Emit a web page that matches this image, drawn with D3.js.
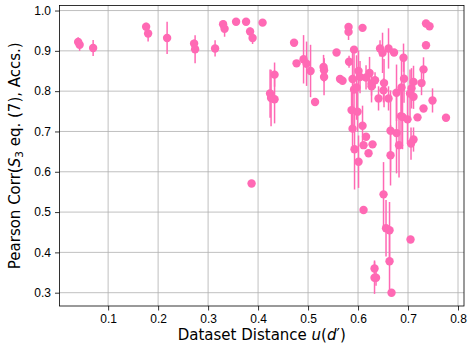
<!DOCTYPE html>
<html>
<head>
<meta charset="utf-8">
<script src="https://cdn.jsdelivr.net/npm/d3@7/dist/d3.min.js"></script>
<style>
  body { margin: 0; background: #fff; }
  svg { font-family: "DejaVu Sans", sans-serif; }
  .tick text { font-size: 12px; fill: #000; }
  .grid line { stroke: #b0b0b0; stroke-width: 0.8; }
  .label { font-size: 15px; fill: #000; }
</style>
</head>
<body>
<div id="chart"></div>
<script>
// dataset distance u(d')
const distance = [0.040, 0.043, 0.070, 0.176, 0.180, 0.218, 0.272, 0.274, 0.314, 0.330,
  0.333, 0.356, 0.376, 0.384, 0.389, 0.387, 0.409, 0.424, 0.426, 0.433,
  0.433, 0.472, 0.477, 0.491, 0.497, 0.505, 0.514, 0.531, 0.532, 0.532,
  0.557, 0.564, 0.569, 0.581, 0.581, 0.582, 0.592, 0.589, 0.601, 0.604,
  0.609, 0.623, 0.592, 0.597, 0.616, 0.627, 0.634, 0.627, 0.644, 0.649,
  0.652, 0.651, 0.661, 0.672, 0.691, 0.692, 0.731, 0.727, 0.736, 0.736,
  0.743, 0.707, 0.711, 0.687, 0.704, 0.677, 0.641, 0.661, 0.711, 0.749,
  0.731, 0.719, 0.776, 0.686, 0.689, 0.699, 0.665, 0.677, 0.711, 0.706,
  0.682, 0.587, 0.599, 0.589, 0.609, 0.616, 0.593, 0.611, 0.629, 0.621,
  0.601, 0.665, 0.611, 0.651, 0.656, 0.663, 0.663, 0.667, 0.633, 0.633,
  0.636, 0.705];
// pearson correlation
const corr = [0.922, 0.915, 0.907, 0.960, 0.943, 0.932, 0.918, 0.904, 0.906, 0.966,
  0.955, 0.972, 0.972, 0.948, 0.932, 0.571, 0.970, 0.794, 0.783, 0.780,
  0.841, 0.920, 0.869, 0.879, 0.868, 0.850, 0.773, 0.860, 0.852, 0.835,
  0.896, 0.830, 0.826, 0.959, 0.947, 0.873, 0.903, 0.830, 0.850, 0.835,
  0.957, 0.845, 0.804, 0.809, 0.834, 0.819, 0.827, 0.812, 0.906, 0.895,
  0.820, 0.802, 0.906, 0.896, 0.883, 0.831, 0.854, 0.820, 0.914, 0.968,
  0.961, 0.807, 0.823, 0.809, 0.794, 0.796, 0.782, 0.782, 0.786, 0.777,
  0.757, 0.735, 0.734, 0.738, 0.736, 0.730, 0.702, 0.696, 0.680, 0.670,
  0.666, 0.753, 0.749, 0.707, 0.714, 0.687, 0.656, 0.666, 0.668, 0.646,
  0.625, 0.641, 0.505, 0.544, 0.460, 0.455, 0.378, 0.300, 0.360, 0.337,
  0.337, 0.432];
// error (half length of bar)
const corrErr = [0.012, 0.015, 0.020, 0.010, 0.020, 0.040, 0.010, 0.035, 0.020, 0.010,
  0.020, 0, 0, 0.010, 0.015, 0, 0, 0.060, 0.070, 0.060,
  0.030, 0, 0, 0.060, 0.055, 0.065, 0, 0.030, 0.030, 0.045,
  0, 0, 0, 0.010, 0.020, 0.015, 0, 0.070, 0.050, 0.040,
  0, 0.040, 0.090, 0.080, 0.030, 0.030, 0.020, 0.040, 0.020, 0.050,
  0.060, 0.030, 0.050, 0, 0.035, 0.060, 0.030, 0.030, 0, 0,
  0, 0.050, 0.040, 0.080, 0.060, 0.070, 0.030, 0.030, 0.030, 0.030,
  0, 0, 0, 0.070, 0.080, 0.060, 0.100, 0.100, 0.030, 0.040,
  0.080, 0.050, 0.050, 0.060, 0.050, 0, 0.100, 0, 0, 0,
  0.065, 0.075, 0, 0.080, 0.070, 0.070, 0.080, 0, 0.020, 0.040,
  0.020, 0];

const xTicks = [0.1, 0.2, 0.3, 0.4, 0.5, 0.6, 0.7, 0.8];
const yTicks = [0.3, 0.4, 0.5, 0.6, 0.7, 0.8, 0.9, 1.0];

const width = 468, height = 347;
const m = { left: 59.5, right: 464, top: 5.5, bottom: 306 };
const color = "#ff69b4";

const x = d3.scaleLinear().domain([0.0027, 0.812]).range([m.left, m.right]);
const y = d3.scaleLinear().domain([0.267, 1.0125]).range([m.bottom, m.top]);

const svg = d3.select("#chart").append("svg")
  .attr("width", width)
  .attr("height", height);

// grid
svg.append("g").attr("class", "grid")
  .selectAll("line").data(xTicks).enter().append("line")
  .attr("x1", d => x(d)).attr("x2", d => x(d))
  .attr("y1", m.top).attr("y2", m.bottom);
svg.append("g").attr("class", "grid")
  .selectAll("line").data(yTicks).enter().append("line")
  .attr("x1", m.left).attr("x2", m.right)
  .attr("y1", d => y(d)).attr("y2", d => y(d));

const points = distance.map((d, i) => ({ x: d, y: corr[i], e: corrErr[i] }));

// error bars
svg.append("g").selectAll("line")
  .data(points.filter(d => d.e > 0)).enter().append("line")
  .attr("x1", d => x(d.x)).attr("x2", d => x(d.x))
  .attr("y1", d => y(d.y - d.e)).attr("y2", d => y(d.y + d.e))
  .attr("stroke", color).attr("stroke-width", 1.5);

svg.append("g").selectAll("circle")
  .data(points).enter().append("circle")
  .attr("cx", d => x(d.x))
  .attr("cy", d => y(d.y))
  .attr("r", 4.2)
  .attr("fill", color);

// axes
const xAxis = svg.append("g").attr("transform", "translate(0," + m.bottom + ")")
  .call(d3.axisBottom(x).tickValues(xTicks).tickFormat(d3.format(".1f")).tickSizeInner(4.5).tickSizeOuter(0).tickPadding(4));
const yAxis = svg.append("g").attr("transform", "translate(" + m.left + ",0)")
  .call(d3.axisLeft(y).tickValues(yTicks).tickFormat(d3.format(".1f")).tickSizeInner(4.5).tickSizeOuter(0).tickPadding(4));
[xAxis, yAxis].forEach(a => {
  a.select(".domain").remove();
  a.selectAll(".tick line").attr("stroke", "#000").attr("stroke-width", 0.8);
});

svg.append("rect")
  .attr("x", m.left).attr("y", m.top)
  .attr("width", m.right - m.left).attr("height", m.bottom - m.top)
  .attr("fill", "none").attr("stroke", "#000").attr("stroke-width", 0.8);

// labels
const xl = svg.append("text").attr("class", "label")
  .attr("x", (m.left + m.right) / 2).attr("y", 340)
  .attr("text-anchor", "middle");
xl.append("tspan").text("Dataset Distance ");
xl.append("tspan").attr("font-style", "italic").text("u");
xl.append("tspan").text("(");
xl.append("tspan").attr("font-style", "italic").text("d");
xl.append("tspan").text("\u2032)");

const yl = svg.append("text").attr("class", "label")
  .attr("transform", "translate(20," + ((m.top + m.bottom) / 2) + ") rotate(-90)")
  .attr("text-anchor", "middle");
yl.append("tspan").text("Pearson Corr(");
yl.append("tspan").attr("font-style", "italic").text("S");
yl.append("tspan").attr("font-size", "10.5px").attr("dy", 3).text("3");
yl.append("tspan").attr("dy", -3).text(" eq. (7), Accs.)");
</script>
</body>
</html>
